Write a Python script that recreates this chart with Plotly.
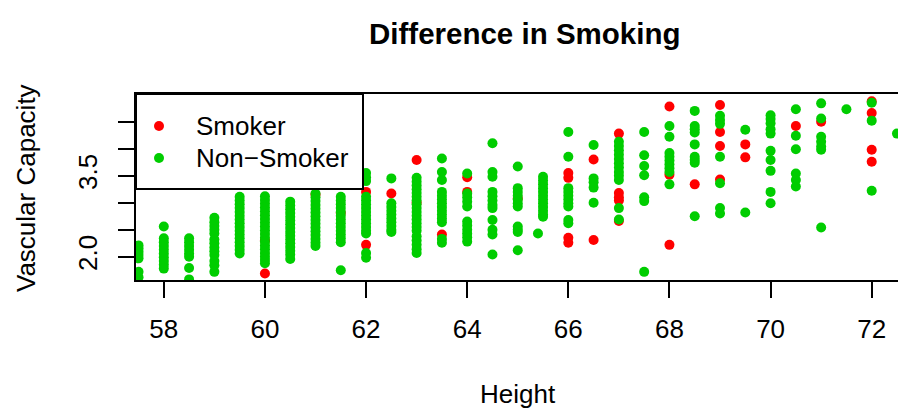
import plotly.graph_objects as go

# Vascular capacity readings grouped by height (inches)
smoker_by_height = {
    60: [2.30, 1.69],
    61: [3.15],
    61.5: [2.81],
    62: [3.20, 2.22],
    62.5: [3.17],
    63: [3.79, 3.00],
    63.5: [2.41],
    64: [3.47, 3.20],
    65: [3.08],
    66: [3.55, 3.46, 2.35, 2.26],
    66.5: [3.80, 2.31],
    67: [4.28, 3.18, 3.10, 3.04, 2.66],
    68: [4.78, 3.52, 2.22],
    68.5: [3.34],
    69: [4.81, 4.31, 4.05, 3.43],
    69.5: [4.08, 3.84],
    70.5: [4.42],
    71: [4.50],
    72: [4.88, 4.66, 3.98, 3.76],
}

nonsmoker_by_height = {
    57.5: [2.21, 2.15, 2.09, 2.03, 1.97, 1.72, 1.62],
    58: [2.56, 2.34, 2.27, 2.20, 2.13, 2.06, 1.99, 1.92, 1.85, 1.78],
    58.5: [2.34, 2.27, 2.20, 2.13, 2.06, 2.00, 1.79, 1.58],
    59: [2.72, 2.64, 2.57, 2.50, 2.43, 2.32, 2.25, 2.17, 2.10, 2.03, 1.92, 1.84, 1.72],
    59.5: [3.11, 3.04, 2.97, 2.90, 2.83, 2.76, 2.69, 2.62, 2.55, 2.48, 2.41,
           2.34, 2.27, 2.20, 2.13, 2.06],
    60: [3.12, 3.05, 2.98, 2.91, 2.84, 2.77, 2.70, 2.63, 2.56, 2.49, 2.42,
         2.35, 2.28, 2.21, 2.14, 2.07, 2.00, 1.94, 1.88],
    60.5: [3.02, 2.95, 2.88, 2.81, 2.74, 2.67, 2.60, 2.53, 2.46, 2.39, 2.32,
           2.25, 2.18, 2.11, 2.04, 1.96],
    61: [3.17, 3.10, 3.03, 2.96, 2.89, 2.82, 2.75, 2.68, 2.61, 2.54, 2.47,
         2.40, 2.33, 2.26, 2.20],
    61.5: [3.11, 3.04, 2.97, 2.90, 2.83, 2.76, 2.69, 2.62, 2.55, 2.48, 2.41,
           2.34, 2.27, 1.75],
    62: [3.55, 3.47, 3.40, 3.11, 3.04, 2.97, 2.90, 2.83, 2.76, 2.69, 2.62,
         2.55, 2.48, 2.43, 2.07, 1.98],
    62.5: [3.45, 2.99, 2.92, 2.85, 2.78, 2.71, 2.64, 2.57, 2.50, 2.46],
    63: [3.46, 3.39, 3.32, 3.25, 3.18, 3.11, 3.04, 2.97, 2.90, 2.83, 2.76,
         2.69, 2.62, 2.55, 2.48, 2.38, 2.30, 2.22, 2.14, 2.07],
    63.5: [3.82, 3.57, 3.42, 3.20, 3.13, 3.06, 2.99, 2.92, 2.85, 2.78, 2.71,
           2.64, 2.33, 2.26],
    64: [3.54, 3.17, 3.10, 3.02, 2.93, 2.65, 2.58, 2.50, 2.43, 2.36, 2.28],
    64.5: [4.10, 3.57, 3.48, 3.20, 3.12, 3.04, 2.96, 2.90, 2.68, 2.50, 2.41, 2.04],
    65: [3.67, 3.27, 3.20, 3.13, 3.06, 2.99, 2.93, 2.56, 2.50, 2.46, 2.12],
    65.4: [2.43],
    65.5: [3.48, 3.41, 3.34, 3.27, 3.20, 3.13, 3.06, 2.99, 2.92, 2.85, 2.78, 2.74],
    66: [4.31, 3.85, 3.27, 3.20, 3.13, 3.06, 2.99, 2.93, 2.68, 2.62],
    66.5: [4.07, 3.45, 3.38, 3.28, 3.00],
    67: [4.13, 4.05, 3.97, 3.89, 3.81, 3.73, 3.65, 3.57, 3.50, 3.42, 2.90, 2.69],
    67.5: [4.31, 3.88, 3.68, 3.51, 3.10, 3.03, 1.72],
    68: [4.42, 4.22, 3.92, 3.85, 3.78, 3.71, 3.64, 3.57, 3.34],
    68.5: [4.70, 4.42, 4.36, 4.30, 4.08, 3.85, 3.79, 3.74, 2.75],
    69: [4.61, 4.53, 4.46, 3.85, 3.36, 2.90, 2.80],
    69.5: [4.35, 2.82],
    70: [4.62, 4.55, 4.47, 4.36, 4.28, 3.96, 3.79, 3.59, 3.20, 2.99],
    70.5: [4.73, 4.24, 3.99, 3.54, 3.42, 3.30],
    71: [4.84, 4.56, 4.22, 4.13, 4.04, 3.98, 2.54],
    71.5: [4.73],
    72: [4.85, 4.52, 3.22],
    72.5: [4.28],
}

group_names = ["Smoker", "Non\u2212Smoker"]
group_colors = ["#FF0000", "#00CD00"]

x_ticks = [58, 60, 62, 64, 66, 68, 70, 72]
y_ticks = [2.0, 2.5, 3.0, 3.5, 4.0, 4.5]
y_tick_text = ["2.0", "", "", "3.5", "", ""]

x_range = [57.45, 72.52]
y_range = [1.569, 5.013]


def flatten(groups):
    xs, ys = [], []
    for h, vals in groups.items():
        for v in vals:
            xs.append(h)
            ys.append(v)
    return xs, ys


FONT = "Liberation Sans, Arial, Helvetica, sans-serif"
W, H = 898, 412
L, R, T, B = 136, 0, 94, 132
PW, PH = W - L - R, H - T - B


def px_x(px):
    return (px - L) / PW


def px_y(py):
    return (H - B - py) / PH


fig = go.Figure()
for groups, name, color in zip([smoker_by_height, nonsmoker_by_height],
                               group_names, group_colors):
    xs, ys = flatten(groups)
    fig.add_trace(go.Scatter(
        x=xs, y=ys, mode="markers", name=name, showlegend=False,
        marker=dict(color=color, size=10, line=dict(width=0)),
        cliponaxis=True,
    ))

axis_common = dict(
    showgrid=False, zeroline=False, showline=True, linecolor="black",
    linewidth=2, ticks="outside", ticklen=16, tickwidth=2, tickcolor="black",
    tickfont=dict(family=FONT, size=26, color="black"),
)

fig.update_xaxes(range=x_range, tickvals=x_ticks, mirror=True,
                 ticklabelstandoff=9, **axis_common)
fig.update_yaxes(range=y_range, tickvals=y_ticks, ticktext=y_tick_text,
                 tickangle=-90, mirror=False, ticklabelstandoff=11, **axis_common)

# Legend box in the upper-left corner of the plotting region
shapes = [dict(type="rect", xref="paper", yref="paper",
               x0=0, x1=px_x(363), y0=px_y(189), y1=1,
               fillcolor="white", line=dict(color="black", width=2),
               layer="above")]
annotations = []
for i, (name, color) in enumerate(zip(group_names, group_colors)):
    cy = px_y(126 + 32 * i)
    shapes.append(dict(type="circle", xref="paper", yref="paper",
                       xsizemode="pixel", ysizemode="pixel",
                       xanchor=px_x(159), yanchor=cy,
                       x0=-5, x1=5, y0=-5, y1=5,
                       fillcolor=color, line=dict(width=0), layer="above"))
    annotations.append(dict(text=name, xref="paper", yref="paper",
                            x=px_x(194), y=cy, xanchor="left", yanchor="middle",
                            showarrow=False,
                            font=dict(family=FONT, size=26, color="black")))

# Title and axis labels
annotations += [
    dict(text="<b>Difference in Smoking</b>", xref="paper", yref="paper",
         x=px_x(524), y=px_y(33), xanchor="center", yanchor="middle",
         showarrow=False, font=dict(family=FONT, size=29.5, color="black")),
    dict(text="Height", xref="paper", yref="paper",
         x=px_x(518), y=px_y(394), xanchor="center", yanchor="middle",
         showarrow=False, font=dict(family=FONT, size=26, color="black")),
    dict(text="Vascular Capacity", xref="paper", yref="paper",
         x=px_x(26), y=px_y(188), xanchor="center", yanchor="middle",
         textangle=-90, showarrow=False,
         font=dict(family=FONT, size=26, color="black")),
]

fig.update_layout(
    width=W, height=H,
    margin=dict(l=L, r=R, t=T, b=B, pad=0),
    paper_bgcolor="white", plot_bgcolor="white",
    shapes=shapes, annotations=annotations,
    showlegend=False,
)

fig.write_html("out.html")
